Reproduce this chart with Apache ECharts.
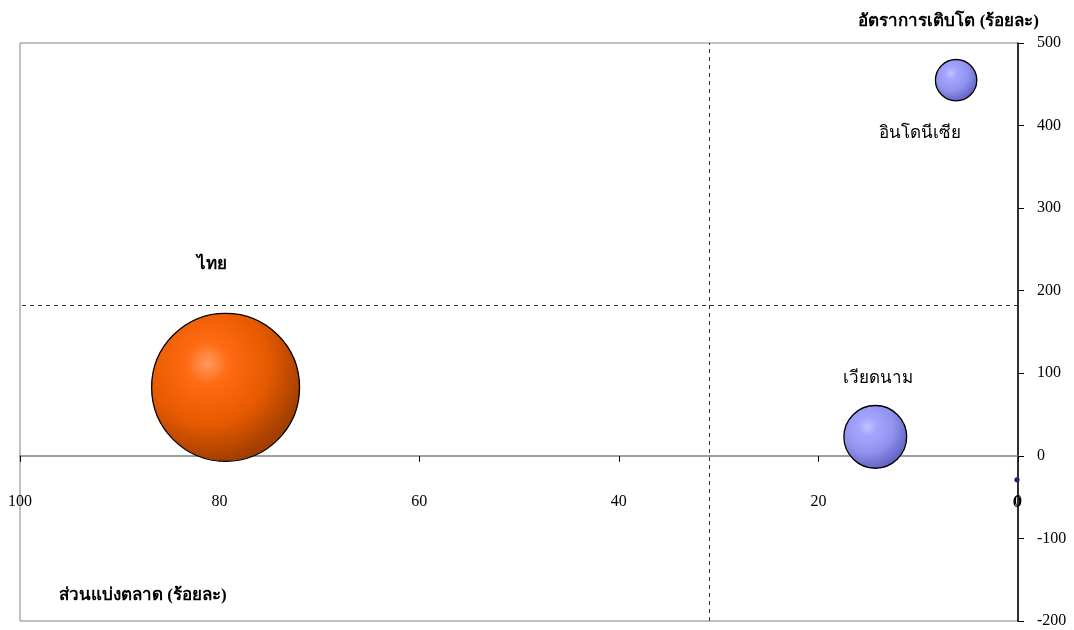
<!DOCTYPE html>
<html>
<head>
<meta charset="utf-8">
<script src="https://cdn.jsdelivr.net/npm/echarts@6/dist/echarts.min.js"></script>
<style>
  html, body { margin: 0; padding: 0; background: #ffffff; }
  #chart { width: 1074px; height: 630px; }
</style>
</head>
<body>
<div id="chart"></div>
<script>
// Market share (%) vs growth rate (%) per country; bubble area follows market share
const countries   = ['ไทย', 'เวียดนาม', 'อินโดนีเซีย', '0'];
const marketShare = [79.4, 14.3, 6.2, 0.1];
const growthRate  = [83, 23, 455, -29];
const shareAvg    = 30.9;   // vertical reference line
const growthAvg   = 182.5;  // horizontal reference line
const xTicks = [0, 20, 40, 60, 80, 100];
const yTicks = [-200, -100, 0, 100, 200, 300, 400, 500];

const FONT = '"Liberation Serif", "Times New Roman", serif';

function ball(light, mid, shade, dark) {
  return {
    type: 'radial', x: 0.38, y: 0.34, r: 0.66,
    colorStops: [
      { offset: 0, color: light },
      { offset: 0.22, color: mid },
      { offset: 0.62, color: shade },
      { offset: 1, color: dark }
    ]
  };
}

// per-label look: colour scheme, label offset from bubble centre, bold or not
const looks = [
  { fill: ball('#ff9a5e', '#ff6a12', '#e65a00', '#a23e00'), offset: [-14, -123], bold: true },
  { fill: ball('#c2c3ff', '#a3a5fd', '#9092ee', '#6364c4'), offset: [3, -58], bold: false },
  { fill: ball('#c2c3ff', '#a3a5fd', '#9092ee', '#6364c4'), offset: [-36, 53], bold: false },
  { fill: '#202080', offset: [0, 23], bold: false }
];

const points = countries.map((name, i) => ({
  name: name,
  value: [marketShare[i], growthRate[i]],
  itemStyle: {
    color: looks[i].fill, opacity: 1,
    borderColor: '#000000', borderWidth: i === 3 ? 0 : 1.3
  },
  label: {
    show: true,
    position: 'inside',
    offset: looks[i].offset,
    formatter: name,
    color: '#000000',
    fontFamily: FONT,
    fontSize: 17,
    fontWeight: looks[i].bold ? 'bold' : 'normal'
  }
}));

const chart = echarts.init(document.getElementById('chart'));
chart.setOption({
  animation: false,
  backgroundColor: '#ffffff',
  title: [
    {
      text: 'อัตราการเติบโต (ร้อยละ)',
      right: 30, top: 8,
      textStyle: { fontFamily: FONT, fontSize: 17, fontWeight: 'bold', color: '#000' }
    },
    {
      text: 'ส่วนแบ่งตลาด (ร้อยละ)',
      left: 54, top: 582,
      textStyle: { fontFamily: FONT, fontSize: 17, fontWeight: 'bold', color: '#000' }
    }
  ],
  grid: {
    left: 20, right: 56, top: 43, bottom: 9,
    outerBoundsMode: 'none',
    containLabel: false,
    show: true, borderColor: '#808080', borderWidth: 1, backgroundColor: 'transparent'
  },
  xAxis: {
    type: 'value',
    min: xTicks[0], max: xTicks[xTicks.length - 1], interval: 20,
    inverse: true,
    splitLine: { show: false },
    axisLine: { show: true, onZero: true, lineStyle: { color: '#808080', width: 1.5 } },
    axisTick: { show: true, length: 6, lineStyle: { color: '#000' } },
    axisLabel: {
      margin: -127, color: '#000', fontFamily: FONT, fontSize: 16,
      formatter: v => xTicks.includes(v) ? String(v) : ''
    }
  },
  yAxis: {
    type: 'value',
    position: 'right',
    min: yTicks[0], max: yTicks[yTicks.length - 1], interval: 100,
    splitLine: { show: false },
    axisLine: { show: true, onZero: false, lineStyle: { color: '#000', width: 1.5 } },
    axisTick: { show: true, length: 6, lineStyle: { color: '#000' } },
    axisLabel: {
      margin: 19, color: '#000', fontFamily: FONT, fontSize: 16,
      formatter: v => yTicks.includes(v) ? String(v) : ''
    }
  },
  series: [{
    type: 'scatter',
    data: points,
    symbol: 'circle',
    symbolSize: (val) => Math.max(3, 16.6 * Math.sqrt(val[0])),
    z: 3,
    markLine: {
      silent: true,
      symbol: ['none', 'none'],
      label: { show: false },
      lineStyle: { color: '#333333', type: [4, 4], width: 1 },
      data: [{ xAxis: shareAvg }, { yAxis: growthAvg }]
    }
  }]
});
</script>
</body>
</html>
